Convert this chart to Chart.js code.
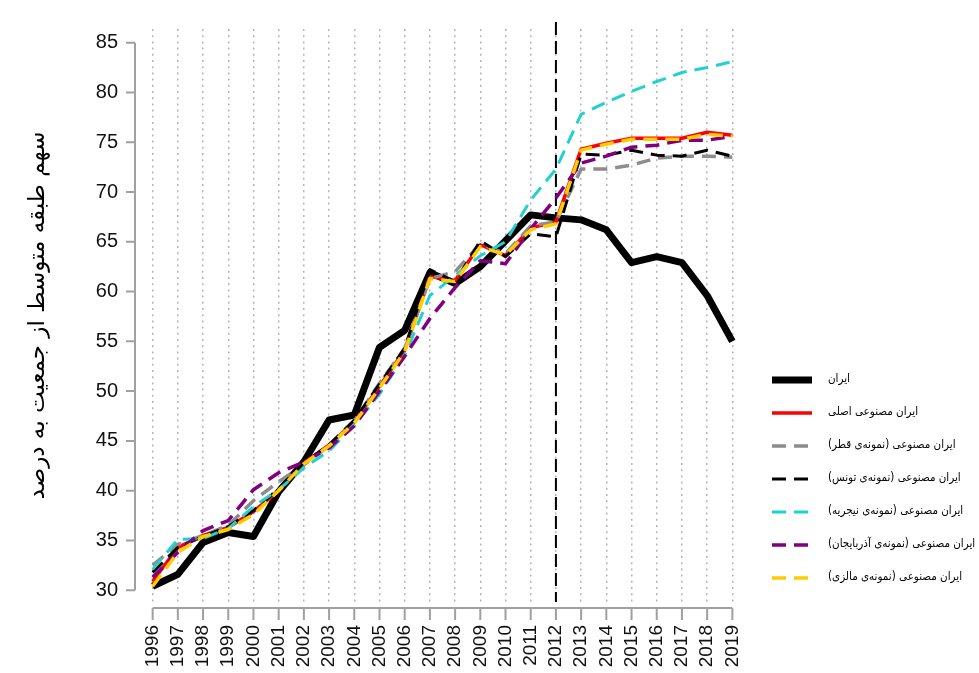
<!DOCTYPE html>
<html dir="ltr">
<head>
<meta charset="utf-8">
<script src="https://cdn.jsdelivr.net/npm/chart.js@4.4.1/dist/chart.umd.min.js"></script>
<style>
  body { margin: 0; background: #fff; }
</style>
</head>
<body>
<canvas id="myChart" width="979" height="673"></canvas>
<script>
// years on the x axis
var years = [1996, 1997, 1998, 1999, 2000, 2001, 2002, 2003, 2004, 2005, 2006, 2007,
  2008, 2009, 2010, 2011, 2012, 2013, 2014, 2015, 2016, 2017, 2018, 2019];
var yTicks = [30, 35, 40, 45, 50, 55, 60, 65, 70, 75, 80, 85];
var treatYear = 2012;

// series values (share of middle class, %)
var iran = [30.4, 31.6, 34.8, 35.8, 35.4, 39.9, 42.9, 47.1, 47.6, 54.4, 56.1, 61.9,
  60.8, 62.5, 65.1, 67.7, 67.4, 67.2, 66.2, 62.9, 63.5, 62.9, 59.6, 55.0];
var synthMain = [30.9, 34.3, 35.5, 36.3, 37.9, 40.0, 42.8, 44.6, 46.9, 50.5, 54.1, 61.5,
  61.1, 64.7, 63.6, 66.4, 67.0, 74.3, 74.9, 75.4, 75.4, 75.4, 76.0, 75.7];
var synthQatar = [32.5, 34.6, 35.5, 36.5, 39.0, 40.9, 42.6, 44.5, 47.0, 50.8, 54.3, 61.3,
  62.0, 64.8, 63.8, 66.6, 67.0, 72.3, 72.3, 72.7, 73.4, 73.6, 73.6, 73.5];
var synthTunisia = [31.8, 34.3, 35.4, 36.4, 38.0, 40.2, 42.8, 44.6, 47.1, 50.7, 54.3, 62.2,
  61.0, 65.1, 63.5, 65.8, 65.5, 73.8, 73.7, 74.2, 73.7, 73.6, 74.2, 73.6];
var synthNigeria = [32.1, 35.1, 35.2, 36.2, 38.4, 40.1, 42.3, 44.0, 46.6, 49.7, 53.6, 59.6,
  61.6, 63.6, 65.0, 69.2, 72.3, 77.8, 79.0, 80.1, 81.1, 82.0, 82.5, 83.1];
var synthAzerbaijan = [31.3, 33.8, 36.0, 37.0, 40.1, 41.8, 42.9, 44.3, 46.5, 50.0, 53.5, 57.3,
  60.4, 63.1, 62.8, 66.3, 69.4, 72.9, 73.6, 74.5, 74.7, 75.2, 75.2, 75.6];
var synthMalaysia = [30.4, 33.8, 35.4, 36.1, 37.6, 40.0, 42.7, 44.5, 46.8, 50.3, 54.0, 61.3,
  61.0, 64.5, 63.7, 66.2, 66.8, 74.2, 74.8, 75.3, 75.3, 75.3, 75.8, 75.6];

var labels = [
  "ایران",
  "ایران مصنوعی اصلی",
  "ایران مصنوعی (نمونه‌ی قطر)",
  "ایران مصنوعی (نمونه‌ی تونس)",
  "ایران مصنوعی (نمونه‌ی نیجریه)",
  "ایران مصنوعی (نمونه‌ی آذربایجان)",
  "ایران مصنوعی (نمونه‌ی مالزی)"
];
var yTitle = "سهم طبقه متوسط از جمعیت به درصد";

function pts(vals) {
  return years.map(function (yr, i) { return { x: yr, y: vals[i] }; });
}

var dash = [14, 8];
function line(label, vals, color, width, dashed, order) {
  return {
    label: label,
    data: pts(vals),
    borderColor: color,
    backgroundColor: color,
    borderWidth: width,
    borderDash: dashed ? dash : [],
    borderJoinStyle: "round",
    pointRadius: 0,
    tension: 0,
    fill: false,
    order: order
  };
}

// dashed vertical line at the treatment year
var treatLine = {
  id: "treatLine",
  beforeDatasetsDraw: function (chart) {
    var ctx = chart.ctx, x = chart.scales.x.getPixelForValue(treatYear);
    ctx.save();
    ctx.strokeStyle = "#000";
    ctx.lineWidth = 2;
    ctx.setLineDash([13, 6]);
    ctx.beginPath();
    ctx.moveTo(x, chart.chartArea.top - 7);
    ctx.lineTo(x, chart.chartArea.bottom);
    ctx.stroke();
    ctx.restore();
  }
};

// base-R style axes: gray lines spanning only first..last tick
var rAxes = {
  id: "rAxes",
  afterDraw: function (chart) {
    var ctx = chart.ctx, xs = chart.scales.x, ys = chart.scales.y, ca = chart.chartArea;
    ctx.save();
    ctx.strokeStyle = "#a0a0a0";
    ctx.lineWidth = 2;
    ctx.beginPath();
    var left = ca.left;
    ctx.moveTo(left, ys.getPixelForValue(yTicks[0]));
    ctx.lineTo(left, ys.getPixelForValue(yTicks[yTicks.length - 1]));
    yTicks.forEach(function (v) {
      var p = ys.getPixelForValue(v);
      ctx.moveTo(left, p);
      ctx.lineTo(left - 9, p);
    });
    var base = ca.bottom + 6;
    ctx.moveTo(xs.getPixelForValue(years[0]), base);
    ctx.lineTo(xs.getPixelForValue(years[years.length - 1]), base);
    years.forEach(function (v) {
      var p = xs.getPixelForValue(v);
      ctx.moveTo(p, base);
      ctx.lineTo(p, base + 12);
    });
    ctx.stroke();
    ctx.restore();
  }
};

// legend on the right, line samples with the dataset styles
var sideLegend = {
  id: "sideLegend",
  afterDraw: function (chart) {
    var ctx = chart.ctx, x0 = chart.chartArea.right + 22;
    chart.data.datasets.forEach(function (ds, i) {
      var yy = 380 + i * 33;
      ctx.save();
      ctx.strokeStyle = ds.borderColor;
      ctx.lineWidth = ds.borderWidth;
      ctx.setLineDash(ds.borderDash);
      ctx.beginPath();
      ctx.moveTo(x0, yy);
      ctx.lineTo(x0 + 40, yy);
      ctx.stroke();
      ctx.setLineDash([]);
      ctx.fillStyle = "#000";
      ctx.font = "11.5px 'DejaVu Sans Condensed', 'DejaVu Sans'";
      ctx.direction = "rtl";
      ctx.textAlign = "left";
      ctx.textBaseline = "middle";
      ctx.fillText(ds.label, x0 + 56, yy - 1);
      ctx.restore();
    });
  }
};

var ctx = document.getElementById("myChart");
var myChart = new Chart(ctx, {
  type: "line",
  data: {
    datasets: [
      line(labels[0], iran, "#000000", 7, false, 6),
      line(labels[1], synthMain, "#ff0000", 3.5, false, 5),
      line(labels[2], synthQatar, "#8c8c8c", 3.5, true, 4),
      line(labels[3], synthTunisia, "#000000", 3, true, 3),
      line(labels[4], synthNigeria, "#22d0d0", 3, true, 2),
      line(labels[5], synthAzerbaijan, "#800080", 3.5, true, 1),
      line(labels[6], synthMalaysia, "#ffcc00", 3.5, true, 0)
    ]
  },
  options: {
    responsive: false,
    animation: false,
    layout: { padding: { left: 10, top: 15, right: 229, bottom: 0 } },
    plugins: {
      legend: { display: false },
      tooltip: { enabled: false }
    },
    scales: {
      x: {
        type: "linear",
        min: 1995.3,
        max: 2019.7,
        afterBuildTicks: function (scale) {
          scale.ticks = years.map(function (v) { return { value: v }; });
        },
        afterFit: function (scale) { scale.height = 71; },
        border: { display: false, dash: [2, 4.2] },
        grid: {
          drawTicks: false,
          color: "#b4b4b4",
          lineWidth: 1.5
        },
        ticks: {
          autoSkip: false,
          minRotation: 90,
          maxRotation: 90,
          padding: 23,
          color: "#111",
          font: { family: "'Liberation Sans', Arial", size: 19 },
          callback: function (v) { return String(v); }
        }
      },
      y: {
        min: 28.82,
        max: 86.37,
        afterBuildTicks: function (scale) {
          scale.ticks = yTicks.map(function (v) { return { value: v }; });
        },
        afterFit: function (scale) { scale.width = 125; },
        border: { display: false },
        grid: { display: false, drawTicks: false },
        ticks: {
          padding: 17,
          color: "#111",
          font: { family: "'Liberation Sans', Arial", size: 20 }
        },
        title: {
          display: true,
          text: yTitle,
          color: "#000",
          font: { family: "'DejaVu Sans'", size: 23 },
          padding: { top: 14, bottom: 0 }
        }
      }
    }
  },
  plugins: [treatLine, rAxes, sideLegend]
});
</script>
</body>
</html>
